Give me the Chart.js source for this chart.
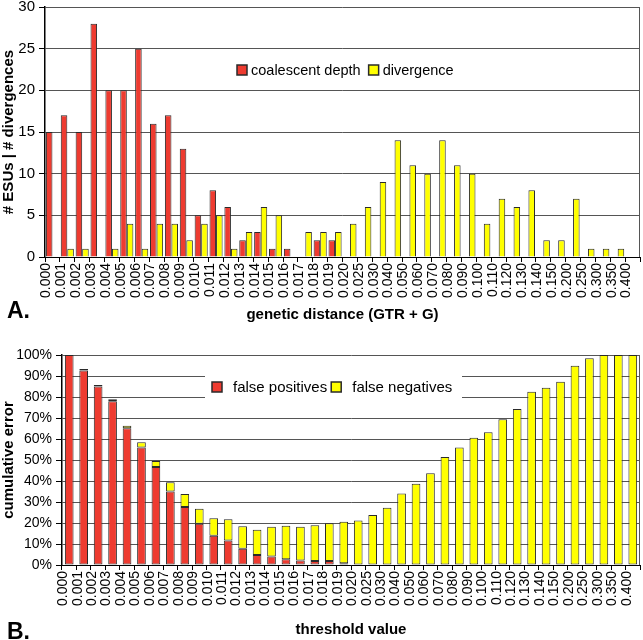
<!DOCTYPE html>
<html>
<head>
<meta charset="utf-8">
<script src="https://cdn.jsdelivr.net/npm/chart.js@4.4.1/dist/chart.umd.min.js"></script>
<style>
  html, body { margin: 0; padding: 0; background: #fff; }
  #wrap { position: relative; width: 643px; height: 640px; overflow: hidden; }
  canvas { position: absolute; left: 0; }
  #chartA { top: 0; }
  #chartB { top: 325px; }
  .panel { position: absolute; left: 7px; font: bold 23px "Liberation Sans", Arial, sans-serif; line-height: 1; }
</style>
</head>
<body>
<div id="wrap">
  <canvas id="chartA" width="643" height="325"></canvas>
  <canvas id="chartB" width="643" height="315"></canvas>
  <div class="panel" style="top:299px">A.</div>
  <div class="panel" style="top:620px">B.</div>
</div>
<script>
// categorias (distancia genetica / umbral)
const distances = ['0.000','0.001','0.002','0.003','0.004','0.005','0.006','0.007','0.008','0.009',
  '0.010','0.011','0.012','0.013','0.014','0.015','0.016','0.017','0.018','0.019','0.020',
  '0.025','0.030','0.040','0.050','0.060','0.070','0.080','0.090','0.100','0.110','0.120',
  '0.130','0.140','0.150','0.200','0.250','0.300','0.350','0.400'];

// panel A: conteos
const coalescentDepth = [15,17,15,28,20,20,25,16,17,13,5,8,6,2,3,1,1,0,2,2,0,
  0,0,0,0,0,0,0,0,0,0,0,0,0,0,0,0,0,0,0];
const divergence = [0,1,1,0,1,4,1,4,4,2,4,5,1,3,6,5,0,3,3,3,4,
  6,9,14,11,10,14,11,10,4,7,6,8,2,2,7,1,1,1,0];
const countTicks = [0, 5, 10, 15, 20, 25, 30];

// panel B: error acumulado (%)
const falsePositives = [100,92.6,85.0,78.0,65.1,55.9,46.7,35.0,27.6,19.6,13.9,11.7,7.7,4.8,4.0,2.7,2.1,1.9,1.9,0.8,0,
  0,0,0,0,0,0,0,0,0,0,0,0,0,0,0,0,0,0,0];
const falseNegatives = [0,0.7,0.7,0.9,1.2,2.5,2.8,4.4,6.2,7.2,8.4,10.1,10.8,12.0,14.2,16.0,16.1,17.0,18.0,19.8,21.2,
  23.8,27.3,34.1,38.7,43.7,51.4,56.0,60.6,63.2,69.4,74.3,82.5,84.4,87.3,94.9,98.4,100,100,100];
const errorTicks = [0,10,20,30,40,50,60,70,80,90,100];

const rojo = '#EE3B30';
const amarillo = '#FFFF00';
const borde = '#2a2a2a';
const rejilla = '#555555';
const fuente = '"Liberation Sans", Arial, sans-serif';

Chart.defaults.font.family = fuente;
Chart.defaults.color = '#000';

// los ceros no se dibujan
const sinCeros = arr => arr.map(v => v === 0 ? null : v);

// marco derecho del area de trazado
const marco = {
  id: 'marco',
  beforeDatasetsDraw(chart) {
    const {ctx, chartArea: a} = chart;
    ctx.save();
    ctx.strokeStyle = rejilla;
    ctx.lineWidth = 1;
    ctx.beginPath();
    ctx.moveTo(Math.round(a.right) - 0.5, a.top);
    ctx.lineTo(Math.round(a.right) - 0.5, a.bottom);
    ctx.stroke();
    ctx.restore();
  }
};

// leyenda dentro del area de trazado
const leyenda = {
  id: 'leyenda',
  afterDraw(chart, args, o) {
    const ctx = chart.ctx;
    ctx.save();
    if (o.bg) {
      ctx.fillStyle = '#fff';
      ctx.fillRect(o.bg[0], o.bg[1], o.bg[2], o.bg[3]);
    }
    ctx.font = o.font;
    ctx.textBaseline = 'middle';
    let x = o.x;
    chart.data.datasets.forEach(ds => {
      ctx.fillStyle = ds.backgroundColor;
      ctx.fillRect(x, o.y - o.box / 2, o.box, o.box);
      ctx.strokeStyle = borde;
      ctx.lineWidth = 1.5;
      ctx.strokeRect(x, o.y - o.box / 2, o.box, o.box);
      x += o.box + o.gapText;
      ctx.fillStyle = '#000';
      ctx.fillText(ds.label, x, o.y + 1);
      x += ctx.measureText(ds.label).width + o.gapItem;
    });
    ctx.restore();
  }
};

function ejeX(titulo, alto) {
  return {
    type: 'category',
    grid: { display: true, drawOnChartArea: false, offset: true, tickLength: 5, tickColor: '#000' },
    border: { display: true, color: '#000', width: 1 },
    ticks: { autoSkip: false, maxRotation: 90, minRotation: 90, padding: 1, labelOffset: -6,
             font: { size: 14 }, color: '#000' },
    title: { display: true, text: titulo, font: { size: 15, weight: 'bold' }, padding: { top: 0, bottom: 1 } },
    afterFit(s) { s.height = alto; s.paddingLeft = 0; s.paddingRight = 0; }
  };
}

function ejeY(titulo, ancho, marcas, sufijo, tam, extra) {
  return Object.assign({
    min: marcas[0],
    max: marcas[marcas.length - 1],
    grid: { color: rejilla, lineWidth: 1, tickLength: 6, tickColor: '#000' },
    border: { display: true, color: '#000', width: 1.5 },
    ticks: { stepSize: marcas[1] - marcas[0], padding: 4, font: { size: tam }, color: '#000',
             callback: v => v + sufijo },
    title: { display: true, text: titulo, font: { size: 15, weight: 'bold' }, padding: { top: 0 } },
    afterFit(s) { s.width = ancho; s.paddingTop = 0; s.paddingBottom = 0; }
  }, extra || {});
}

new Chart(document.getElementById('chartA'), {
  type: 'bar',
  data: {
    labels: distances,
    datasets: [
      { label: 'coalescent depth', data: sinCeros(coalescentDepth), backgroundColor: rojo,
        borderColor: borde, borderWidth: 1, borderSkipped: 'bottom' },
      { label: 'divergence', data: sinCeros(divergence), backgroundColor: amarillo,
        borderColor: borde, borderWidth: 1, borderSkipped: 'bottom' }
    ]
  },
  options: {
    responsive: false,
    animation: false,
    layout: { padding: { top: 7, right: 3, left: 0, bottom: 0 } },
    datasets: { bar: { categoryPercentage: 0.88, barPercentage: 1.0 } },
    scales: {
      x: ejeX('genetic distance (GTR + G)', 68),
      y: ejeY('# ESUs | # divergences', 45, countTicks, '', 15)
    },
    plugins: {
      legend: { display: false },
      tooltip: { enabled: false },
      leyenda: { x: 237, y: 70, box: 10, gapText: 4, gapItem: 8, font: '14.5px ' + fuente }
    }
  },
  plugins: [marco, leyenda]
});

new Chart(document.getElementById('chartB'), {
  type: 'bar',
  data: {
    labels: distances,
    datasets: [
      { label: 'false positives', data: sinCeros(falsePositives), backgroundColor: rojo,
        borderColor: borde, borderWidth: 1, borderSkipped: false },
      { label: 'false negatives', data: sinCeros(falseNegatives), backgroundColor: amarillo,
        borderColor: borde, borderWidth: 1, borderSkipped: false }
    ]
  },
  options: {
    responsive: false,
    animation: false,
    layout: { padding: { top: 30, right: 3, left: 0, bottom: 0 } },
    datasets: { bar: { categoryPercentage: 1.0, barPercentage: 0.6 } },
    scales: {
      x: Object.assign(ejeX('threshold value', 75), { stacked: true }),
      y: ejeY('cumulative error', 62, errorTicks, '%', 14, { stacked: true })
    },
    plugins: {
      legend: { display: false },
      tooltip: { enabled: false },
      leyenda: { x: 212, y: 62, box: 10, gapText: 11, gapItem: 4, font: '15px ' + fuente,
                 bg: [205, 44, 257, 34] }
    }
  },
  plugins: [marco, leyenda]
});
</script>
</body>
</html>
